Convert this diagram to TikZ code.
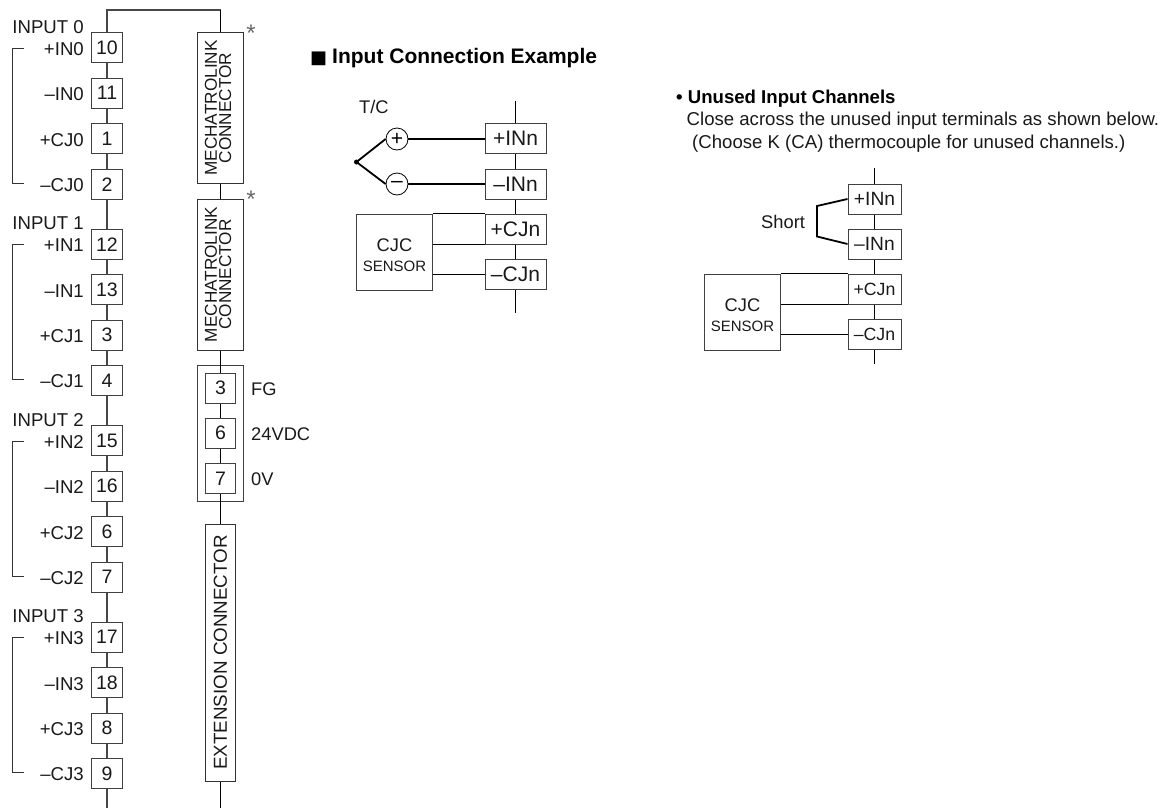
\documentclass[tikz,border=0pt]{standalone}
\usepackage{fontspec}
\setmainfont{Liberation Sans}
\newcommand{\fsz}[1]{\fontsize{#1}{#1}\selectfont}
\newcommand{\cjctext}{\rule{0pt}{19pt}{\fsz{18.3}CJC}\\[8pt]{\fsz{15}SENSOR}}
\tikzset{
  wire/.style={draw=black!72,line width=1.1pt},
  thinw/.style={draw=black,line width=0.9pt},
  thickw/.style={draw=black,line width=1.8pt},
  br/.style={draw=black!80,line width=0.9pt},
  term/.style={draw=black!75,line width=1pt,minimum width=30.5pt,minimum height=30pt,inner sep=0pt,font=\fsz{19.5},text=black!90},
  lbl/.style={anchor=base east,inner sep=0pt,font=\fsz{18.6},text=black!90},
  txt/.style={anchor=base west,inner sep=0pt,font=\fsz{18.3},text=black!90},
  rbox/.style={draw=black!80,line width=1pt,inner sep=0pt,font=\fsz{17.2},align=center,text=black!90},
  cbox/.style={draw=black!75,line width=1pt,minimum height=30pt,inner sep=0pt,font=\fsz{21},text=black!90},
  ring/.style={circle,draw=black,line width=0.8pt,minimum size=22pt,inner sep=0pt,font=\fsz{21}},
  star/.style={anchor=center,inner sep=0pt,font=\fsz{24},text=black!60},
  sensorbox/.style={draw=black!75,line width=1pt,minimum width=76pt,minimum height=76pt,inner sep=0pt,align=center,text=black!90},
}
\begin{document}
\begin{tikzpicture}[x=1pt,y=-1pt]
\useasboundingbox (0,0) rectangle (1163,809);
% terminals left column
\foreach \n/\t/\y in {a/10/47.7,b/11/93.2,c/1/138.7,d/2/184.2,e/12/244.2,f/13/289.7,g/3/335.2,h/4/380.7,i/15/440.7,j/16/486.2,k/6/531.7,l/7/577.2,m/17/637.2,n/18/682.7,o/8/728.2,p/9/773.7}
  \node[term] (\n) at (107,\y) {\t};
\coordinate (topL) at (107,10);
\coordinate (topR) at (220.5,10);
\coordinate (endL) at (107,808);
\coordinate (endR) at (220.5,808);
\draw[wire] (a.north) -- (topL) -- (topR);
\foreach \u/\v in {a/b,b/c,c/d,d/e,e/f,f/g,g/h,h/i,i/j,j/k,k/l,l/m,m/n,n/o,o/p}
  \draw[wire] (\u) -- (\v);
\draw[wire] (p) -- (endL);
% labels
\foreach \nm/\k/\y in {0/0/33,1/1/229.5,2/2/426,3/3/622.5}{
  \node[lbl] (inp\nm) at (84,\y) {INPUT \k};
  \node[lbl] (ip\nm) at (84,\y+22) {+IN\k};
  \node[lbl] (im\nm) at (84,\y+67.5) {–IN\k};
  \node[lbl] (cp\nm) at (84,\y+113) {+CJ\k};
  \node[lbl] (cm\nm) at (84,\y+158) {–CJ\k};
  \draw[br] (24,\y+15) -- (12.5,\y+15) -- (12.5,\y+150) -- (24,\y+150);
}
% right column
\node[rbox,minimum width=45.5pt,minimum height=150.5pt] (mA) at (220.5,108) {\rotatebox{90}{\begin{tabular}{@{}c@{}}MECHATROLINK\\[-3pt]CONNECTOR\end{tabular}}};
\node[rbox,minimum width=45.5pt,minimum height=151pt] (mB) at (220.5,274.5) {\rotatebox{90}{\begin{tabular}{@{}c@{}}MECHATROLINK\\[-3pt]CONNECTOR\end{tabular}}};
\node[star] (stA) at (251,33) {*};
\node[star] (stB) at (251,199.5) {*};
\node[draw=black!75,line width=1pt,minimum width=45.5pt,minimum height=136pt,inner sep=0pt] (fg) at (220.5,433) {};
\node[term] (f3) at (220.5,388) {3};
\node[term] (f6) at (220.5,433) {6};
\node[term] (f7) at (220.5,478.5) {7};
\node[txt] (fgl) at (251,395) {FG};
\node[txt] (vl) at (251,440) {24VDC};
\node[txt] (zl) at (251,485.5) {0V};
\node[rbox,minimum width=30.5pt,minimum height=257pt,font=\fsz{18.8}] (ext) at (220.5,652.5) {\rotatebox{90}{EXTENSION CONNECTOR}};
\draw[wire,thinw] (topR) -- (mA.north);
\draw[thinw] (mA) -- (mB);
\draw[thinw] (mB) -- (f3);
\draw[thinw] (f3) -- (f6);
\draw[thinw] (f6) -- (f7);
\draw[thinw] (f7) -- (ext);
\draw[thinw] (ext) -- (endR);
% Input connection example
\node[anchor=base west,inner sep=0pt,font=\fontspec{DejaVu Sans}\fsz{18}] (sq) at (310,63) {■};
\node[anchor=base west,inner sep=0pt,font=\fsz{21}\bfseries] (title) at (332,63) {Input Connection Example};
\node[txt] (tc) at (359,113) {T/C};
\node[cbox,minimum width=61pt] (x1) at (515.5,138) {+INn};
\node[cbox,minimum width=61pt] (x2) at (515.5,184) {–INn};
\node[cbox,minimum width=61pt] (x3) at (515.5,229) {+CJn};
\node[cbox,minimum width=61pt] (x4) at (515.5,274.5) {–CJn};
\coordinate (xt) at (515.5,101);
\coordinate (xb) at (515.5,313);
\draw[thinw] (xt) -- (x1);
\draw[thinw] (x1) -- (x2);
\draw[thinw] (x2) -- (x3);
\draw[thinw] (x3) -- (x4);
\draw[thinw] (x4) -- (xb);
\node[ring] (rp) at (397,139) {+};
\node[ring] (rm) at (397,184) {–};
\node[circle,fill=black,minimum size=5pt,inner sep=0pt] (dot) at (356.5,162) {};
\draw[thickw] (dot.center) -- (rp.west);
\draw[thickw] (dot.center) -- (rm.west);
\draw[thickw] (rp.east) -- (rp.east -| x1.west);
\draw[thickw] (rm.east) -- (rm.east -| x2.west);
\node[sensorbox] (s1) at (394.5,252) {\cjctext};
\draw[thinw] (s1.north east) -- (x3.north west);
\draw[thinw] (x3.south west -| s1.east) -- (x3.south west);
\draw[thickw] (x4.west -| s1.east) -- (x4.west);
% Unused
\node[anchor=base west,inner sep=0pt,font=\fsz{18.6}\bfseries] (ut) at (676,103) {• Unused Input Channels};
\node[anchor=base west,inner sep=0pt,font=\fsz{18.6},text=black!90] (ul1) at (686.5,125.5) {Close across the unused input terminals as shown below.};
\node[anchor=base west,inner sep=0pt,font=\fsz{18.6},text=black!90] (ul2) at (692,148) {(Choose K (CA) thermocouple for unused channels.)};
\node[cbox,minimum width=53pt,font=\fsz{19.2}] (y1) at (874.5,199) {+INn};
\node[cbox,minimum width=53pt,font=\fsz{19.2}] (y2) at (874.5,244) {–INn};
\node[cbox,minimum width=53pt,font=\fsz{17.7}] (y3) at (874.5,289) {+CJn};
\node[cbox,minimum width=53pt,font=\fsz{17.7}] (y4) at (874.5,334.5) {–CJn};
\coordinate (yt) at (874.5,168);
\coordinate (yb) at (874.5,364);
\draw[thinw] (yt) -- (y1);
\draw[thinw] (y1) -- (y2);
\draw[thinw] (y2) -- (y3);
\draw[thinw] (y3) -- (y4);
\draw[thinw] (y4) -- (yb);
\coordinate (sA) at (817,206);
\coordinate (sB) at (817,236.5);
\draw[thickw] (y1.west) -- (sA) -- (sB) -- (y2.west);
\node[txt] (sh) at (761,228.5) {Short};
\node[sensorbox] (s2) at (742.5,312) {\cjctext};
\draw[thinw] (s2.north east) -- (y3.north west);
\draw[thinw] (y3.south west -| s2.east) -- (y3.south west);
\draw[thickw] (y4.west -| s2.east) -- (y4.west);
\end{tikzpicture}
\end{document}
